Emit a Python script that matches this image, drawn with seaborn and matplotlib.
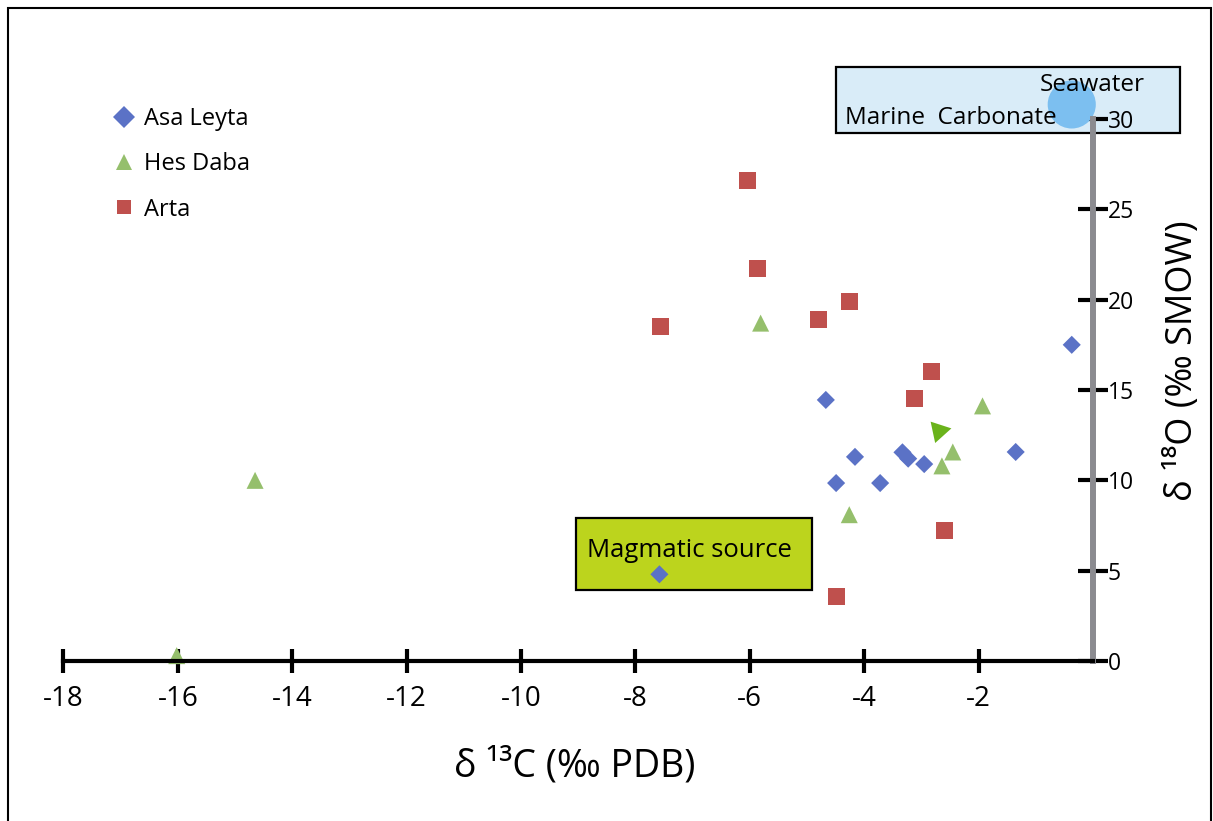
import numpy as np
import pandas as pd
import matplotlib
matplotlib.use("Agg")
import matplotlib.pyplot as plt
import seaborn as sns
from matplotlib.patches import Rectangle
from matplotlib.lines import Line2D

sns.set_theme(style="white")
plt.rcParams['font.family'] = ['Open Sans', 'Noto Sans', 'DejaVu Sans']
plt.rcParams['axes.unicode_minus'] = False
plt.rcParams['text.color'] = 'black'
plt.rcParams['xtick.color'] = 'black'
plt.rcParams['ytick.color'] = 'black'

# Veriler
asa_x = [-0.37, -4.67, -4.16, -4.49, -3.72, -3.33, -3.23, -2.95, -1.35, -7.58]
asa_y = [17.5, 14.45, 11.3, 9.85, 9.85, 11.55, 11.2, 10.9, 11.57, 4.8]
hes_x = [-16.02, -14.65, -5.81, -4.26, -2.64, -2.45, -1.93]
hes_y = [0.3, 10.0, 18.7, 8.1, 10.8, 11.57, 14.12]
arta_x = [-6.04, -5.86, -7.56, -4.79, -4.26, -2.82, -3.12, -2.6, -4.49]
arta_y = [26.6, 21.7, 18.5, 18.9, 19.9, 16.0, 14.55, 7.2, 3.6]
extra_x = [-2.69]
extra_y = [12.73]
seawater_x = [-0.37]
seawater_y = [30.8]

x_ticks = [-18, -16, -14, -12, -10, -8, -6, -4, -2]
y_ticks = [0, 5, 10, 15, 20, 25, 30]

df = pd.DataFrame({
    "x": asa_x + hes_x + arta_x,
    "y": asa_y + hes_y + arta_y,
    "grup": ["Asa Leyta"] * len(asa_x) + ["Hes Daba"] * len(hes_x) + ["Arta"] * len(arta_x),
})

colors = {"Asa Leyta": "#5b72c6", "Hes Daba": "#95bf6c", "Arta": "#bf504d"}
markers = {"Asa Leyta": "D", "Hes Daba": "^", "Arta": "s"}
sizes = {"Asa Leyta": 85, "Hes Daba": 150, "Arta": 150}

fig = plt.figure(figsize=(12.13, 8.21), dpi=100)
ax = fig.add_axes([0, 0, 1, 1])
ax.set_xlim(-19.11, 2.10)
ax.set_ylim(-8.85, 36.58)

for g in ["Asa Leyta", "Hes Daba", "Arta"]:
    sub = df[df["grup"] == g]
    sns.scatterplot(data=sub, x="x", y="y", marker=markers[g], color=colors[g],
                    s=sizes[g], edgecolor="none", ax=ax, zorder=2, legend=False)

# ekstra koyu yeşil üçgen
ax.scatter(extra_x, extra_y, marker=(3, 0, -78), s=330, color="#6ab31b",
           edgecolor="none", zorder=2)

# Marine Carbonate kutusu ve deniz suyu
ax.add_patch(Rectangle((-4.49, 29.22), 6.01, 3.65, facecolor="#d9ecf8",
                       edgecolor="black", linewidth=1.6, zorder=0.5))
ax.scatter(seawater_x, seawater_y, s=1200, color="#7cbff0", edgecolor="none", zorder=1)
ax.text(-4.34, 29.4, "Marine  Carbonate", fontsize=17.5, ha="left", va="bottom", zorder=3)
ax.text(-0.93, 31.85, "Seawater", fontsize=17.5, ha="left", va="center", zorder=3)

# Magmatic source kutusu
ax.add_patch(Rectangle((-9.04, 3.93), 4.13, 3.98, facecolor="#bcd41d",
                       edgecolor="black", linewidth=1.6, zorder=0.5))
ax.text(-8.85, 6.1, "Magmatic source", fontsize=18.5, ha="left", va="center", zorder=3)

# Eksenler
for sp in ["left", "top"]:
    ax.spines[sp].set_visible(False)
ax.spines["bottom"].set_position(("data", 0))
ax.spines["bottom"].set_bounds(-18, 0)
ax.spines["bottom"].set_linewidth(3)
ax.spines["bottom"].set_color("black")
ax.spines["right"].set_position(("data", 0))
ax.spines["right"].set_bounds(0, 30)
ax.spines["right"].set_linewidth(4.3)
ax.spines["right"].set_color("#8b8b90")
ax.spines["right"].set_zorder(1.6)

ax.set_xticks(x_ticks)
ax.set_xticklabels([str(t) for t in x_ticks])
ax.set_yticks(y_ticks)
ax.set_yticklabels([str(t) for t in y_ticks])
ax.tick_params(axis="x", bottom=True, direction="inout", length=17, width=3,
               color="black", labelsize=20, pad=9)
ax.tick_params(axis="y", left=False, right=True, labelleft=False, labelright=True,
               direction="inout", length=21, width=3, color="black", labelsize=16.5, pad=0)
ax.set_xlabel("")
ax.set_ylabel("")

ax.text(-9.06, -5.81, "δ ¹³C (‰ PDB)", fontsize=27, ha="center", va="center")
ax.text(1.58, 16.6, "δ ¹⁸O (‰ SMOW)", fontsize=26, ha="center", va="center", rotation=90)

# Lejant
handles = [
    Line2D([], [], linestyle="none", marker="D", markersize=11, color=colors["Asa Leyta"], markeredgewidth=0),
    Line2D([], [], linestyle="none", marker="^", markersize=11.5, color=colors["Hes Daba"], markeredgewidth=0),
    Line2D([], [], linestyle="none", marker="s", markersize=9.5, color=colors["Arta"], markeredgewidth=0),
]
ax.legend(handles, ["Asa Leyta", "Hes Daba", "Arta"], loc="upper left",
          bbox_to_anchor=(0.087, 0.881), frameon=False, fontsize=17,
          handlelength=0.8, handletextpad=0.45, labelspacing=0.9, borderaxespad=0)

# çerçeve
fig.patches.append(Rectangle((8 / 1213, -0.02), 1203 / 1213, 1.02 - 8 / 821,
                             transform=fig.transFigure, fill=False,
                             edgecolor="black", linewidth=1.5))

fig.savefig("out.png", dpi=100)
